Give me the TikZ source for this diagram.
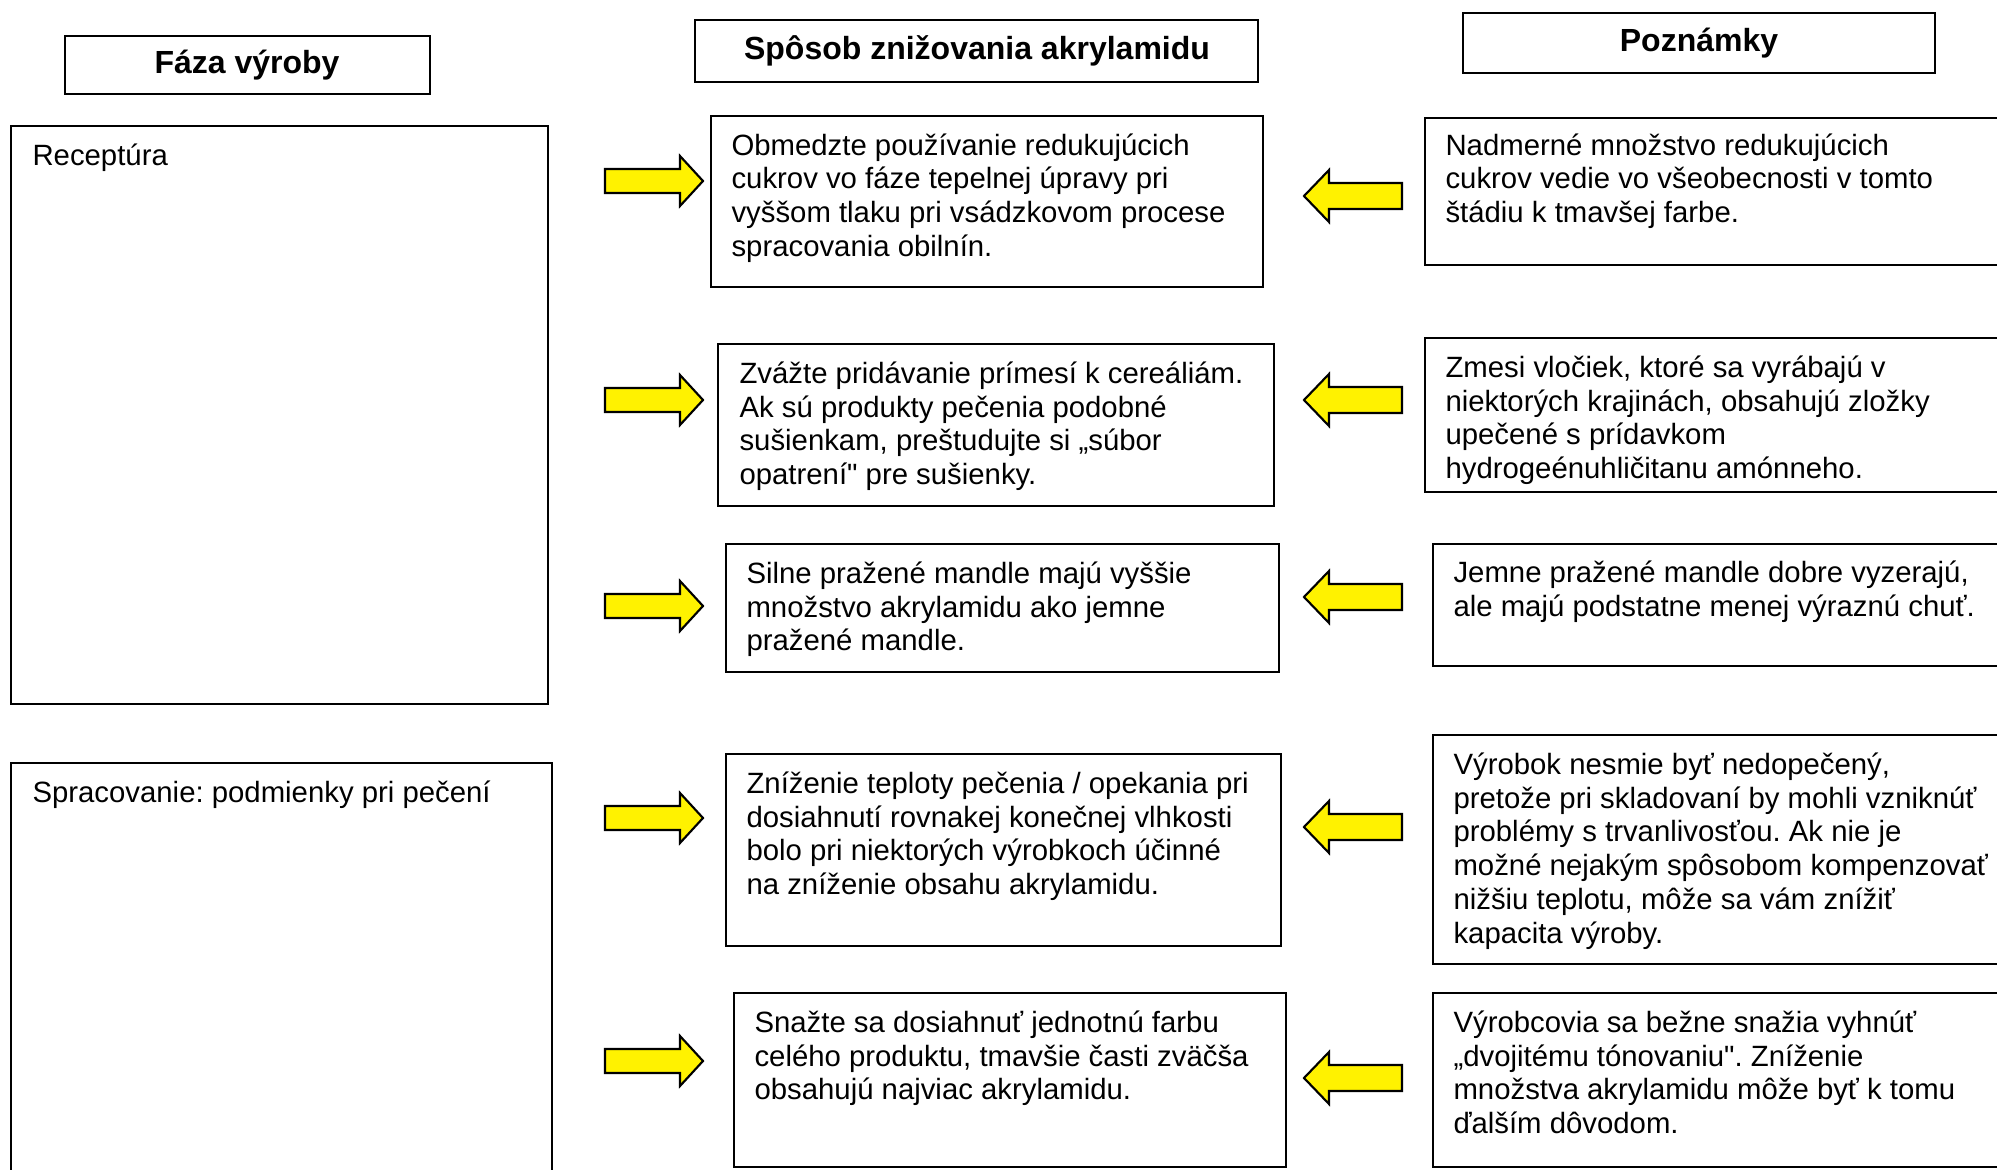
\documentclass[tikz,border=0pt]{standalone}
\usepackage{fontspec}
\setmainfont{Liberation Sans}
\frenchspacing
\tikzset{
  box/.style={draw, line width=0.8pt},
  txt/.style={anchor=north west, inner sep=0pt, align=left, font=\fontsize{11pt}{12.7pt}\selectfont,
    execute at begin node={\rule{0pt}{10pt}}},
  head/.style={inner sep=0pt, font=\fontsize{12pt}{14pt}\selectfont\bfseries},
  pil/.style={draw, line width=0.8pt, fill=yellow, line join=miter}
}
\begin{document}
\begin{tikzpicture}[x=0.375pt,y=-0.375pt]
  \useasboundingbox (0,0) rectangle (1997,1170);
  \clip (0,0) rectangle (1997,1170);
  % hlavicky
  \draw[box] (65,36) rectangle (430,94);
  \node[head] (faza) at (247,65) {Fáza výroby};
  \draw[box] (695,20) rectangle (1258,82);
  \node[head] (sposob) at (977,51) {Spôsob znižovania akrylamidu};
  \draw[box] (1463,13) rectangle (1935,73);
  \node[head] (pozn) at (1699,43) {Poznámky};
  % faza vyroby
  \draw[box] (11,126) rectangle (548,704);
  \node[txt] (rec) at (32,138) {Receptúra};
  \draw[box] (11,763) rectangle (552,1190);
  \node[txt] (spr) at (32,775) {Spracovanie: podmienky pri pečení};
  % sposob znizovania
  \draw[box] (711,116) rectangle (1263,287);
  \node[txt] (m1) at (731,133) {Obmedzte používanie redukujúcich\\cukrov vo fáze tepelnej úpravy pri\\vyššom tlaku pri vsádzkovom procese\\spracovania obilnín.};
  \draw[box] (718,344) rectangle (1274,506);
  \node[txt] (m2) at (739,361) {Zvážte pridávanie prímesí k cereáliám.\\Ak sú produkty pečenia podobné\\sušienkam, preštudujte si „súbor\\opatrení\textquotedbl{} pre sušienky.};
  \draw[box] (726,544) rectangle (1279,672);
  \node[txt] (m3) at (746,561) {Silne pražené mandle majú vyššie\\množstvo akrylamidu ako jemne\\pražené mandle.};
  \draw[box] (726,754) rectangle (1281,946);
  \node[txt] (m4) at (746,771) {Zníženie teploty pečenia / opekania pri\\dosiahnutí rovnakej konečnej vlhkosti\\bolo pri niektorých výrobkoch účinné\\na zníženie obsahu akrylamidu.};
  \draw[box] (734,993) rectangle (1286,1167);
  \node[txt] (m5) at (754,1010) {Snažte sa dosiahnuť jednotnú farbu\\celého produktu, tmavšie časti zväčša\\obsahujú najviac akrylamidu.};
  % poznamky
  \draw[box] (1425,118) rectangle (2010,265);
  \node[txt] (r1) at (1445,133) {Nadmerné množstvo redukujúcich\\cukrov vedie vo všeobecnosti v tomto\\štádiu k tmavšej farbe.};
  \draw[box] (1425,338) rectangle (2010,492);
  \node[txt] (r2) at (1445,355) {Zmesi vločiek, ktoré sa vyrábajú v\\niektorých krajinách, obsahujú zložky\\upečené s prídavkom\\hydrogeénuhličitanu amónneho.};
  \draw[box] (1433,544) rectangle (2010,666);
  \node[txt] (r3) at (1453,560) {Jemne pražené mandle dobre vyzerajú,\\ale majú podstatne menej výraznú chuť.};
  \draw[box] (1433,735) rectangle (2010,964);
  \node[txt] (r4) at (1453,752) {Výrobok nesmie byť nedopečený,\\pretože pri skladovaní by mohli vzniknúť\\problémy s trvanlivosťou. Ak nie je\\možné nejakým spôsobom kompenzovať\\nižšiu teplotu, môže sa vám znížiť\\kapacita výroby.};
  \draw[box] (1433,993) rectangle (2010,1167);
  \node[txt] (r5) at (1453,1010) {Výrobcovia sa bežne snažia vyhnúť\\„dvojitému tónovaniu\textquotedbl. Zníženie\\množstva akrylamidu môže byť k tomu\\ďalším dôvodom.};
  % sipky
  \foreach \y in {181,400,606,818,1061}
    \draw[pil] (605,\y-12) -- (680,\y-12) -- (680,\y-25) -- (703,\y) -- (680,\y+25) -- (680,\y+12) -- (605,\y+12) -- cycle;
  \foreach \y in {196,400,597,827,1078}
    \draw[pil] (1402,\y-13) -- (1329,\y-13) -- (1329,\y-26) -- (1304,\y) -- (1329,\y+26) -- (1329,\y+13) -- (1402,\y+13) -- cycle;
\end{tikzpicture}
\end{document}
